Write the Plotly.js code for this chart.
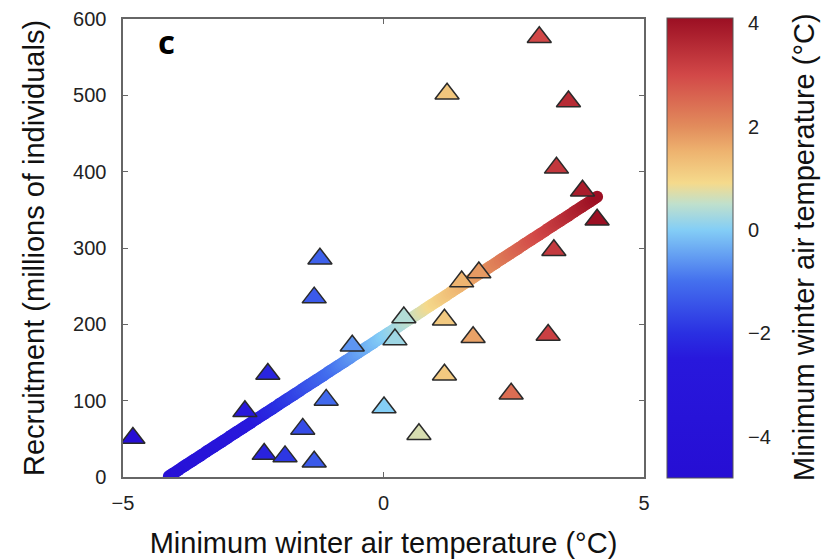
<!DOCTYPE html>
<html>
<head>
<meta charset="utf-8">
<script src="https://cdn.plot.ly/plotly-3.0.1.min.js"></script>
<style>html,body{margin:0;padding:0;background:#fff;}#chart{width:831px;height:560px;}</style>
</head>
<body>
<div id="chart"></div>
<script>
// Minimum winter air temperature (°C) per year
const temperature = [-4.81, -2.66, -2.22, -2.29, -1.89, -1.55, -1.33, -1.33, -1.22, -1.10,
  -0.60, 0.01, 0.22, 0.39, 0.68, 1.17, 1.17, 1.50, 1.83, 1.72,
  2.45, 3.16, 3.27, 2.99, 1.22, 3.55, 3.32, 3.82, 4.10];
// Recruitment (millions of individuals)
const recruitment = [51, 86, 135, 30, 27, 63, 20, 235, 286, 101,
  172, 91, 180, 209, 56, 206, 134, 256, 268, 183,
  109, 186, 297, 576, 502, 492, 405, 375, 337];
// Fitted line end points
const fitX = [-4.12, 4.10];
const fitY = [1, 367];
// Axis ticks
const xTicks = [-5, 0, 5];
const yTicks = [0, 100, 200, 300, 400, 500, 600];
const cbTicks = [-4, -2, 0, 2, 4];
const colorMin = -4.8, colorMax = 4.1;
const colorTitle = 'Minimum winter air temperature (°C)';

const cs = [
  [0.000, 'rgb(38,14,212)'],
  [0.259, 'rgb(40,24,220)'],
  [0.315, 'rgb(42,48,226)'],
  [0.428, 'rgb(68,112,238)'],
  [0.540, 'rgb(132,206,246)'],
  [0.596, 'rgb(192,224,204)'],
  [0.641, 'rgb(245,218,140)'],
  [0.708, 'rgb(238,180,112)'],
  [0.764, 'rgb(226,140,92)'],
  [0.876, 'rgb(210,72,72)'],
  [1.000, 'rgb(155,15,35)']
];

// sample the straight fit segment so it can carry a colour gradient
const N = 220;
const lx = [], ly = [];
for (let i = 0; i <= N; i++) {
  const f = i / N;
  lx.push(fitX[0] + f * (fitX[1] - fitX[0]));
  ly.push(fitY[0] + f * (fitY[1] - fitY[0]));
}

const font = 'Liberation Sans, Arial, sans-serif';
const traces = [
  {
    x: lx, y: ly, type: 'scatter', mode: 'markers', hoverinfo: 'skip',
    marker: {symbol: 'circle', size: 12, color: lx, colorscale: cs, cmin: colorMin, cmax: colorMax,
      showscale: false, line: {width: 0}}
  },
  {
    x: temperature, y: recruitment, type: 'scatter', mode: 'markers',
    marker: {
      symbol: 'triangle-up', size: 21, color: temperature, colorscale: cs,
      cmin: colorMin, cmax: colorMax,
      line: {color: '#2a2a2a', width: 1.5},
      showscale: true,
      colorbar: {
        x: 1.044, xanchor: 'left', xpad: 0, ypad: 0,
        y: 0.5, yanchor: 'middle', len: 1.004, lenmode: 'fraction',
        thickness: 66, thicknessmode: 'pixels',
        outlinewidth: 1, outlinecolor: '#555',
        tickmode: 'array', tickvals: cbTicks,
        ticks: 'outside', ticklen: 11, tickcolor: 'rgba(0,0,0,0)',
        tickfont: {family: font, size: 20, color: '#222'}
      }
    }
  }
];

const axisCommon = {
  showgrid: false, zeroline: false, showline: true, linecolor: '#666', linewidth: 1.6,
  mirror: 'ticks', ticks: 'inside', ticklen: 5, tickcolor: '#666', tickwidth: 1,
  tickfont: {family: font, size: 20, color: '#222'}
};

const layout = {
  width: 831, height: 560,
  margin: {l: 123, r: 187, t: 19, b: 83},
  paper_bgcolor: '#fff', plot_bgcolor: '#fff',
  showlegend: false,
  xaxis: Object.assign({}, axisCommon, {
    range: [-5, 5], tickmode: 'array', tickvals: xTicks, ticklabelstandoff: 7,
    title: {text: 'Minimum winter air temperature (°C)', standoff: 20,
      font: {family: font, size: 29, color: '#111'}}
  }),
  yaxis: Object.assign({}, axisCommon, {
    range: [0, 600], tickmode: 'array', tickvals: yTicks, ticklabelstandoff: 11,
    title: {text: 'Recruitment (millions of individuals)', standoff: 20,
      font: {family: font, size: 29, color: '#111'}}
  }),
  annotations: [{
    xref: 'paper', yref: 'paper', x: 0.083, y: 0.95, xanchor: 'center', yanchor: 'middle',
    text: '<b>c</b>', showarrow: false,
    font: {family: 'Open Sans, sans-serif', size: 33, color: '#000'}
  }, {
    xref: 'paper', yref: 'paper', x: 1.307, y: 0.502, xanchor: 'center', yanchor: 'middle',
    text: colorTitle, textangle: -90, showarrow: false,
    font: {family: font, size: 29, color: '#111'}
  }]
};

Plotly.newPlot('chart', traces, layout, {staticPlot: true, displayModeBar: false});
</script>
</body>
</html>
